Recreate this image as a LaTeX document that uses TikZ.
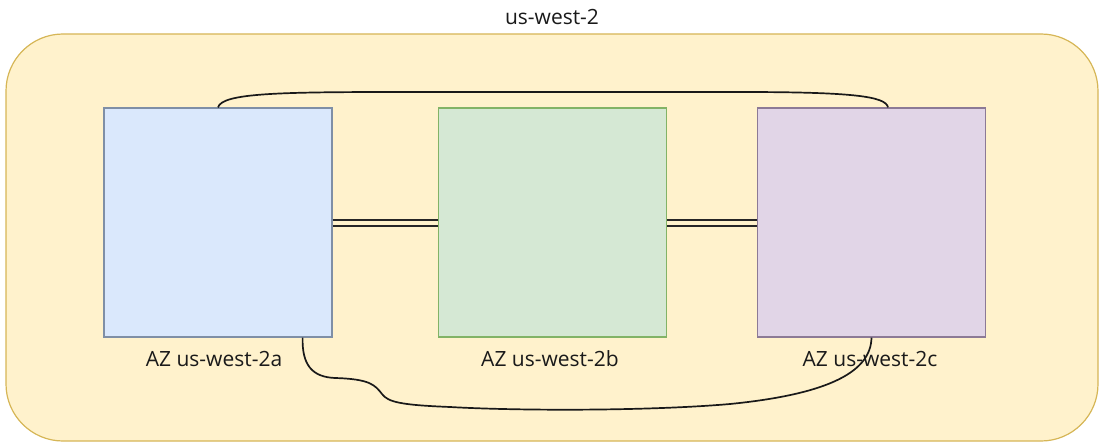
\documentclass[tikz,border=0pt]{standalone}
\usepackage{fontspec}
\setmainfont{Open Sans}
\usetikzlibrary{calc}
\definecolor{regfill}{HTML}{FFF2CC}
\definecolor{regdraw}{HTML}{D6B656}
\definecolor{afill}{HTML}{DAE8FC}
\definecolor{adraw}{HTML}{7F8FA6}
\definecolor{bfill}{HTML}{D5E8D4}
\definecolor{bdraw}{HTML}{82B366}
\definecolor{cfill}{HTML}{E1D5E7}
\definecolor{cdraw}{HTML}{8C7A96}
\definecolor{txt}{HTML}{1A1A1A}
\begin{document}
\begin{tikzpicture}[x=1pt,y=-1pt,
  azbox/.style={draw, line width=1.2pt, minimum width=228pt, minimum height=229pt, inner sep=0pt},
  lbl/.style={font=\fontsize{21}{23}\selectfont, text=txt, inner sep=0pt},
  link/.style={line width=1.7pt, draw=black!90}]
\useasboundingbox (0,0) rectangle (1101,444);
\node[draw=regdraw, fill=regfill, line width=1.2pt, rounded corners=57pt, minimum width=1092pt, minimum height=407pt, inner sep=0pt] (R) at (552,237.5) {};
\node[lbl] (T) at (552,17) {us-west-2};
\node[azbox, fill=afill, draw=adraw] (A) at (218,222.5) {};
\node[azbox, fill=bfill, draw=bdraw] (B) at (552.5,222.5) {};
\node[azbox, fill=cfill, draw=cdraw] (C) at (871.5,222.5) {};
\node[lbl] (LA) at (214,359) {AZ us-west-2a};
\node[lbl] (LB) at (550,359) {AZ us-west-2b};
\node[lbl] (LC) at (870,359) {AZ us-west-2c};
% double links
\draw[draw=black!85, double=regfill, double distance=4pt, line width=1.6pt] (A.east |- 0,223) -- (B.west |- 0,223);
\draw[draw=black!85, double=regfill, double distance=4pt, line width=1.6pt] (B.east |- 0,223) -- (C.west |- 0,223);
% top curve
\coordinate (ct) at ($(C.north)+(16.5,0)$);
\draw[link] (A.north) .. controls (222,93) and (280,92) .. (400,92) -- (740,92) .. controls (850,92) and (886,96) .. (ct);
% bottom curve
\coordinate (ab) at ($(A.south east)+(-30,0)$);
\draw[link] (ab) .. controls (302,365) and (312,377) .. (335,378)
  .. controls (370,379) and (375,385) .. (382,394)
  .. controls (388,402) and (400,405) .. (450,407)
  .. controls (520,411) and (650,411) .. (730,404)
  .. controls (820,395) and (871,375) .. (C.south);
\end{tikzpicture}
\end{document}
